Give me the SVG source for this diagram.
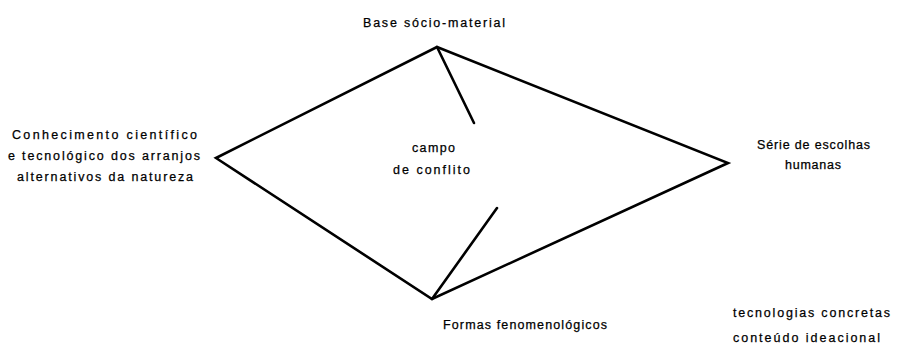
<svg xmlns="http://www.w3.org/2000/svg" width="915" height="350" viewBox="0 0 915 350">
<style>
  .lbl { font-family: "Liberation Sans", Arial, sans-serif; font-size: 12.5px; fill: #000; stroke: #000; stroke-width: 0.25px; }
  .edge { stroke: #000; stroke-width: 2.6; fill: none; stroke-linecap: round; stroke-linejoin: miter; }
</style>
<rect width="915" height="350" fill="#fff"/>
<g id="connectors">
  <polygon class="edge" points="437,47 728,163 432,299 216,158"/>
  <line class="edge" x1="437" y1="47" x2="474" y2="123"/>
  <line class="edge" x1="432" y1="299" x2="497" y2="208"/>
</g>
<g id="node-base">
  <text class="lbl" x="363" y="27" textLength="142" lengthAdjust="spacing">Base sócio-material</text>
</g>
<g id="node-conhecimento">
  <text class="lbl" x="12" y="139" textLength="185" lengthAdjust="spacing">Conhecimento científico</text>
  <text class="lbl" x="8" y="160" textLength="192" lengthAdjust="spacing">e tecnológico dos arranjos</text>
  <text class="lbl" x="17" y="181" textLength="176" lengthAdjust="spacing">alternativos da natureza</text>
</g>
<g id="node-serie">
  <text class="lbl" x="757" y="149" textLength="113" lengthAdjust="spacing">Série de escolhas</text>
  <text class="lbl" x="785" y="169" textLength="56" lengthAdjust="spacing">humanas</text>
</g>
<g id="node-campo">
  <text class="lbl" x="412" y="152" textLength="43" lengthAdjust="spacing">campo</text>
  <text class="lbl" x="393" y="174" textLength="77" lengthAdjust="spacing">de conflito</text>
</g>
<g id="node-formas">
  <text class="lbl" x="443" y="329" textLength="164" lengthAdjust="spacing">Formas fenomenológicos</text>
</g>
<g id="node-legenda">
  <text class="lbl" x="733" y="317" textLength="157" lengthAdjust="spacing">tecnologias concretas</text>
  <text class="lbl" x="733" y="342" textLength="147" lengthAdjust="spacing">conteúdo ideacional</text>
</g>
</svg>
